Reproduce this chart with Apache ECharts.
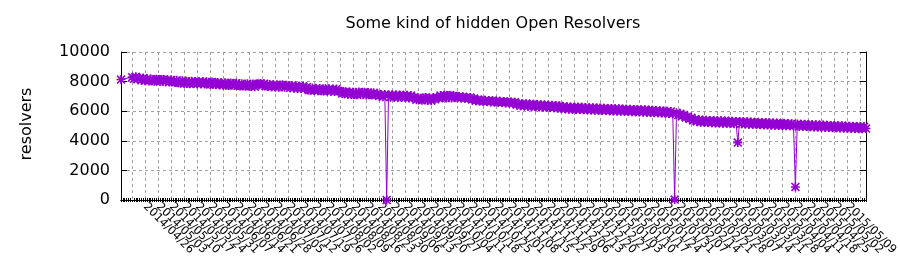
<!DOCTYPE html>
<html>
<head>
<meta charset="utf-8">
<script src="https://cdn.jsdelivr.net/npm/echarts@6/dist/echarts.min.js"></script>
<style>
html,body{margin:0;padding:0;background:#fff;}
#chart{width:900px;height:280px;}
</style>
</head>
<body>
<div id="chart"></div>
<script>
// ---- data ----
const titleText = 'Some kind of hidden Open Resolvers';
const yAxisTitle = 'resolvers';
const startDate = '2014-04-13';   // first category (daily)
const dayCount = 402;
const firstTickIndex = 6;         // first labelled tick
const tickStepDays = 7;           // weekly labels
const yTicks = [0, 2000, 4000, 6000, 8000, 10000];

// daily resolver counts (null = no measurement)
const resolvers = [
  8140, null, null, null, null, null, 8300, 8190, 8320, 8180,
  8230, 8090, 8240, 8060, 8190, 8040, 8170, 8050, 8020, 8160,
  8140, 8000, 8130, 8150, 7990, 8120, 7970, 8110, 7990, 7960,
  8090, 7930, 7900, 8050, 7880, 8030, 7900, 7860, 8020, 7870,
  8010, 7840, 7990, 7850, 8000, 7830, 7980, 7850, 7810, 7970,
  7930, 7790, 7940, 7780, 7910, 7760, 7920, 7770, 7740, 7900,
  7870, 7730, 7890, 7740, 7700, 7860, 7720, 7690, 7850, 7710,
  7690, 7830, 7660, 7810, 7850, 7880, 7740, 7860, 7700, 7680,
  7800, 7650, 7790, 7630, 7770, 7620, 7750, 7780, 7610, 7740,
  7710, 7580, 7730, 7560, 7700, 7540, 7690, 7550, 7680, 7530,
  7610, 7440, 7420, 7560, 7400, 7540, 7380, 7530, 7390, 7360,
  7520, 7370, 7510, 7350, 7490, 7330, 7500, 7360, 7350, 7190,
  7270, 7310, 7140, 7290, 7120, 7280, 7150, 7110, 7300, 7140,
  7240, 7280, 7100, 7260, 7120, 7090, 7250, 7110, 7170, 7030,
  7110, 6970, 7120, 0,    7090, 6950, 7110, 6960, 7100, 6930,
  7090, 6940, 7080, 6920, 7070, 6900, 7060, 6910, 6940, 6780,
  6870, 6800, 6740, 6890, 6930, 6740, 6900, 6710, 6880, 6800,
  6950, 6900, 7060, 6910, 7070, 6890, 7050, 7070, 6900, 7040,
  6990, 6910, 6990, 6900, 6970, 6880, 6950, 6860, 6930, 6790,
  6860, 6700, 6780, 6690, 6760, 6670, 6740, 6650, 6720, 6630,
  6710, 6620, 6690, 6600, 6670, 6580, 6660, 6560, 6640, 6550,
  6630, 6530, 6610, 6440, 6520, 6370, 6510, 6350, 6500, 6340,
  6480, 6320, 6470, 6310, 6450, 6290, 6440, 6280, 6420, 6270,
  6410, 6250, 6400, 6240, 6380, 6220, 6360, 6180, 6320, 6160,
  6300, 6140, 6290, 6130, 6270, 6120, 6280, 6110, 6260, 6100,
  6250, 6090, 6240, 6080, 6230, 6070, 6220, 6060, 6210, 6050,
  6200, 6040, 6190, 6030, 6180, 6020, 6170, 6010, 6160, 6000,
  6150, 5990, 6140, 5980, 6130, 5970, 6120, 5960, 6110, 5950,
  6100, 5940, 6090, 5930, 6080, 5920, 6060, 5900, 6050, 5890,
  6030, 5870, 6020, 5860, 6000, 5840, 5980, 5820, 30,   5900,
  5740, 5820, 5660, 5740, 5580, 5650, 5480, 5550, 5380, 5460,
  5310, 5400, 5260, 5410, 5250, 5390, 5230, 5380, 5220, 5370,
  5210, 5360, 5200, 5350, 5190, 5340, 5180, 5330, 5170, 5320,
  5160, 5310, 3880, 5300, 5150, 5290, 5130, 5280, 5120, 5270,
  5110, 5260, 5100, 5250, 5090, 5240, 5080, 5230, 5070, 5220,
  5060, 5210, 5050, 5200, 5040, 5190, 5030, 5180, 5020, 5170,
  5010, 5160, 5000, 880,  5130, 4980, 5120, 4970, 5110, 4960,
  5100, 4950, 5090, 4940, 5080, 4930, 5070, 4920, 5060, 4910,
  5050, 4900, 5040, 4890, 5030, 4880, 5020, 4870, 5010, 4860,
  5000, 4850, 4990, 4840, 4980, 4830, 4970, 4820, 4960, 4810,
  4950, 4830
];

// ---- categories (calendar days) ----
function pad(n){ return (n < 10 ? '0' : '') + n; }
const categories = [];
(function(){
  const d0 = new Date(startDate + 'T00:00:00Z');
  for (let i = 0; i < dayCount; i++) {
    const d = new Date(d0.getTime() + i * 86400000);
    categories.push(d.getUTCFullYear() + '/' + pad(d.getUTCMonth() + 1) + '/' + pad(d.getUTCDate()));
  }
})();
const isMajor = (idx) => idx >= firstTickIndex && (idx - firstTickIndex) % tickStepDays === 0;

// ---- style ----
const FONT = 'DejaVu Sans';
const PURPLE = '#9400d3';
const GRIDCOL = '#a0a0a0';
const asterisk = 'path://M0,6.5L16,6.5L16,9.5L0,9.5Z M6.5,0L9.5,0L9.5,16L6.5,16Z M2,0L16,14L14,16L0,2Z M14,0L16,2L2,16L0,14Z';

const chart = echarts.init(document.getElementById('chart'), null, {renderer: 'canvas'});
chart.setOption({
  animation: false,
  backgroundColor: '#ffffff',
  grid: {left: 121, right: 34, top: 52, bottom: 80, containLabel: false, outerBoundsMode: 'none'},
  graphic: [
    {type: 'text', x: 493, y: 24, silent: true,
     style: {text: titleText, font: '16px "' + FONT + '"', fill: '#000', textAlign: 'center', textVerticalAlign: 'middle'}},
    {type: 'text', x: 27, y: 124, rotation: Math.PI / 2, silent: true,
     style: {text: yAxisTitle, font: '16px "' + FONT + '"', fill: '#000', textAlign: 'center', textVerticalAlign: 'middle'}}
  ],
  xAxis: [
    {
      type: 'category', data: categories, boundaryGap: false, position: 'bottom',
      axisLine: {show: true, lineStyle: {color: '#000', width: 1}},
      axisTick: {show: true, inside: true, interval: 0, length: 2, lineStyle: {color: '#000', width: 1}},
      axisLabel: {
        show: true, interval: (i) => isMajor(i), rotate: -45, margin: 5,
        fontFamily: FONT, fontSize: 11.5, color: '#000', hideOverlap: false
      },
      splitLine: {show: true, interval: (i) => isMajor(i), lineStyle: {color: GRIDCOL, width: 1, type: [3, 3]}}
    },
    {
      type: 'category', data: categories, boundaryGap: false, position: 'top',
      axisLine: {show: true, lineStyle: {color: '#000', width: 1}},
      axisTick: {show: true, inside: true, interval: 0, length: 2, lineStyle: {color: '#000', width: 1}},
      axisLabel: {show: false},
      splitLine: {show: false}
    }
  ],
  yAxis: [
    {
      type: 'value', min: yTicks[0], max: yTicks[yTicks.length - 1], interval: 2000, position: 'left',
      axisLine: {show: true, lineStyle: {color: '#000', width: 1}},
      axisTick: {show: true, inside: true, length: 6, lineStyle: {color: '#000'}},
      axisLabel: {fontFamily: FONT, fontSize: 16, color: '#000', margin: 11, formatter: (v) => String(v)},
      splitLine: {show: true, lineStyle: {color: GRIDCOL, width: 1, type: [3, 3]}}
    },
    {
      type: 'value', min: yTicks[0], max: yTicks[yTicks.length - 1], interval: 2000, position: 'right',
      axisLine: {show: true, lineStyle: {color: '#000', width: 1}},
      axisTick: {show: true, inside: true, length: 6, lineStyle: {color: '#000'}},
      axisLabel: {show: false},
      splitLine: {show: false}
    }
  ],
  series: [{
    type: 'line', xAxisIndex: 0, yAxisIndex: 0,
    data: resolvers, connectNulls: true, showAllSymbol: true,
    symbol: asterisk, symbolSize: 9, symbolKeepAspect: true,
    lineStyle: {color: PURPLE, width: 1},
    itemStyle: {color: PURPLE, borderWidth: 0},
    emphasis: {disabled: true}, silent: true, z: 3
  }]
});
</script>
</body>
</html>
